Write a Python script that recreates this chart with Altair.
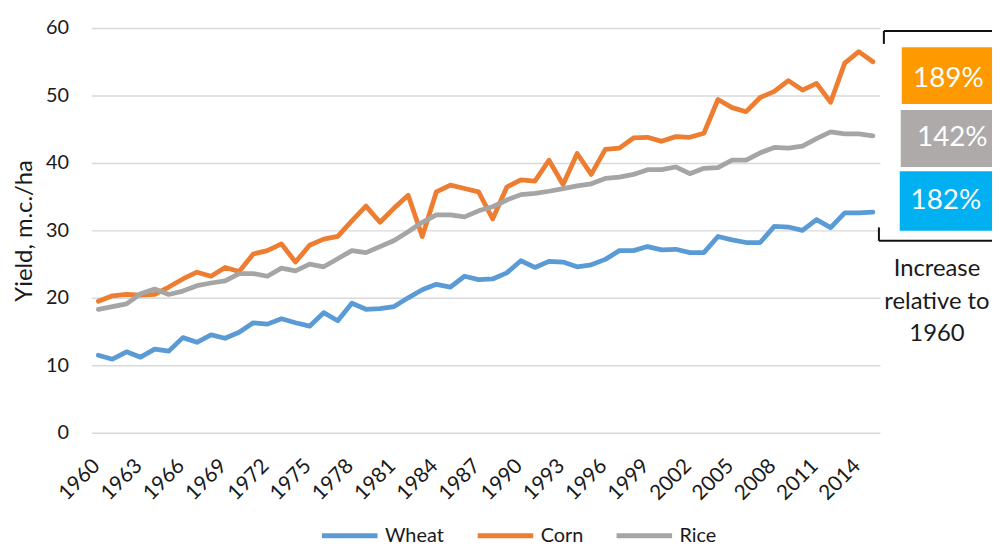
import altair as alt
import pandas as pd

years = list(range(1960, 2016))
wheat = [11.5, 10.9, 12.0, 11.2, 12.4, 12.1, 14.1, 13.4, 14.5, 14.0,
         14.9, 16.3, 16.1, 16.9, 16.3, 15.8, 17.8, 16.6, 19.2, 18.3,
         18.4, 18.7, 20.0, 21.2, 22.0, 21.6, 23.2, 22.7, 22.8, 23.7,
         25.5, 24.5, 25.4, 25.3, 24.6, 24.9, 25.7, 27.0, 27.0, 27.6,
         27.1, 27.2, 26.7, 26.7, 29.1, 28.6, 28.2, 28.2, 30.6, 30.5,
         30.0, 31.6, 30.4, 32.6, 32.6, 32.7]
corn = [19.5, 20.3, 20.5, 20.4, 20.5, 21.6, 22.8, 23.8, 23.2, 24.5,
        23.9, 26.5, 27.0, 28.0, 25.3, 27.8, 28.7, 29.1, 31.4, 33.6,
        31.2, 33.3, 35.2, 29.1, 35.7, 36.7, 36.2, 35.7, 31.7, 36.4,
        37.5, 37.3, 40.4, 36.8, 41.4, 38.3, 42.0, 42.2, 43.7, 43.8,
        43.2, 43.9, 43.8, 44.4, 49.4, 48.2, 47.6, 49.7, 50.6, 52.2,
        50.8, 51.8, 49.0, 54.8, 56.5, 55.0]
rice = [18.3, 18.7, 19.1, 20.6, 21.3, 20.5, 21.0, 21.8, 22.2, 22.5,
        23.6, 23.6, 23.2, 24.4, 24.0, 25.0, 24.6, 25.8, 27.0, 26.7,
        27.6, 28.5, 29.8, 31.2, 32.3, 32.3, 32.0, 32.9, 33.5, 34.5,
        35.3, 35.5, 35.8, 36.2, 36.6, 36.9, 37.7, 37.9, 38.3, 39.0,
        39.0, 39.4, 38.4, 39.2, 39.3, 40.4, 40.4, 41.5, 42.3, 42.2,
        42.5, 43.6, 44.6, 44.3, 44.3, 44.0]
series_names = ["Wheat", "Corn", "Rice"]
series_colors = ["#5B9BD5", "#ED7D31", "#A5A5A5"]
y_ticks = [0, 10, 20, 30, 40, 50, 60]

increase_labels = ["189%", "142%", "182%"]
increase_colors = ["#FF9900", "#AEAAAA", "#00B0F0"]
increase_note = ["Increase", "relative to", "1960"]

FONT = "Lato"
TEXT_COLOR = "#1a1a1a"

rows = []
for name, vals in zip(series_names, [wheat, corn, rice]):
    for yr, v in zip(years, vals):
        rows.append({"Year": yr, "Crop": name, "Yield": v})
df = pd.DataFrame(rows)

W, H = 795, 408

lines = alt.Chart(df).mark_line(strokeWidth=4.8, strokeCap="round", strokeJoin="round").encode(
    x=alt.X("Year:O", scale=alt.Scale(paddingOuter=0.5),
            axis=alt.Axis(title=None, labelExpr="(datum.value - 1960) % 3 == 0 ? datum.value : ''",
                          labelAngle=-45, labelAlign="right", labelBaseline="middle",
                          labelOverlap=False, ticks=False, tickSize=0, domain=False,
                          labelPadding=30, labelOffset=-2, labelFontSize=21,
                          labelFont=FONT, labelColor=TEXT_COLOR, grid=False)),
    y=alt.Y("Yield:Q", scale=alt.Scale(domain=[0, 60], nice=False),
            axis=alt.Axis(values=y_ticks, grid=True, gridColor="#D9D9D9", gridWidth=1.5,
                          domain=False, ticks=False, labelPadding=23, labelFontSize=20,
                          labelFont=FONT, labelColor=TEXT_COLOR,
                          title="Yield, m.c./ha", titleFont=FONT, titleFontSize=24,
                          titleFontWeight="normal", titleColor=TEXT_COLOR,
                          titleAngle=270, titleX=-60, titleY=H / 2,
                          titleBaseline="alphabetic", titleAlign="center")),
    color=alt.Color("Crop:N", scale=alt.Scale(domain=series_names, range=series_colors),
                    sort=series_names,
                    legend=alt.Legend(orient="none", legendX=230, legendY=481,
                                      direction="horizontal", title=None,
                                      symbolType="stroke", symbolSize=3136,
                                      symbolStrokeWidth=5, labelFontSize=20,
                                      labelFont=FONT, labelColor=TEXT_COLOR,
                                      columnPadding=23, labelOffset=5, padding=0)),
)

one = alt.Data(values=[{"a": 1}])
layers = [lines]

# brackets
bracket_specs = [
    dict(x=799, x2=915, y=3.0, y2=3.0),
    dict(x=799, x2=799, y=3.0, y2=16),
    dict(x=794, x2=915, y=214.5, y2=214.5),
    dict(x=794, x2=794, y=201, y2=214.5),
]
for b in bracket_specs:
    layers.append(alt.Chart(one).mark_rule(color="#111111", strokeWidth=2).encode(
        x=alt.value(b["x"]), x2=alt.value(b["x2"]), y=alt.value(b["y"]), y2=alt.value(b["y2"])))

box_specs = [
    dict(x=817, y=19.3, y2=76.6, tx=864, ty=59.3),
    dict(x=816, y=82.6, y2=140.0, tx=868, ty=119.3),
    dict(x=815, y=144.3, y2=204.3, tx=861.5, ty=182.6),
]
for lab, col, b in zip(increase_labels, increase_colors, box_specs):
    layers.append(alt.Chart(one).mark_rect(color=col).encode(
        x=alt.value(b["x"]), x2=alt.value(915), y=alt.value(b["y"]), y2=alt.value(b["y2"])))
    layers.append(alt.Chart(one).mark_text(font=FONT, fontSize=28, color="white",
                                           align="center", baseline="alphabetic").encode(
        x=alt.value(b["tx"]), y=alt.value(b["ty"]), text=alt.value(lab)))

layers.append(alt.Chart(one).mark_text(font=FONT, fontSize=24, color=TEXT_COLOR,
                                       align="center", baseline="alphabetic",
                                       lineHeight=32.7).encode(
    x=alt.value(852.5), y=alt.value(250.3), text=alt.value(increase_note)))

chart = alt.layer(*layers).properties(
    width=W, height=H,
    padding={"left": 84, "top": 18, "right": 113, "bottom": 112},
    autosize=alt.AutoSizeParams(type="none"),
).configure(font=FONT).configure_view(strokeWidth=0, stroke=None)

chart.save("out.html", embed_options={"renderer": "svg", "actions": False})
